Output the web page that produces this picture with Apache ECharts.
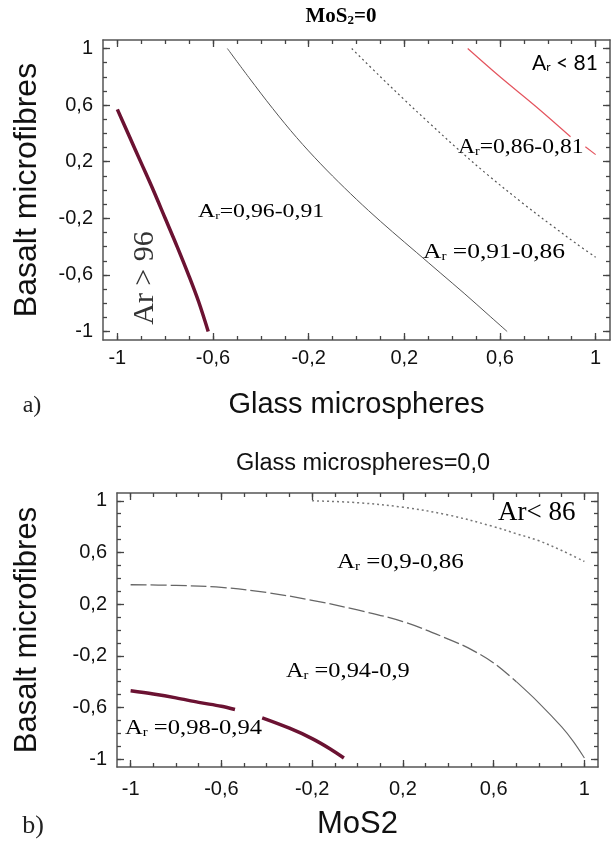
<!DOCTYPE html>
<html>
<head>
<meta charset="utf-8">
<script src="https://cdn.jsdelivr.net/npm/echarts@6/dist/echarts.min.js"></script>
<style>
  html, body { margin: 0; background: #fff; }
  #chart { width: 611px; height: 841px; }
</style>
</head>
<body>
<div id="chart"></div>
<script>
// tick values shared by both panels
const tickMajor = [-1, -0.6, -0.2, 0.2, 0.6, 1];
const tickMinor = [-1, -0.9, -0.8, -0.7, -0.6, -0.5, -0.4, -0.3, -0.2, -0.1, 0, 0.1, 0.2, 0.3, 0.4, 0.5, 0.6, 0.7, 0.8, 0.9, 1];

// a) MoS2 = 0 : x = glass microspheres, y = basalt microfibres
const aThickX = [-1, -0.95, -0.9, -0.85, -0.8, -0.75, -0.7, -0.66, -0.62];
const aThickY = [0.57, 0.38, 0.19, 0.0, -0.2, -0.4, -0.61, -0.79, -1.0];
const aSolidX = [-0.54, -0.45, -0.35, -0.25, -0.15, -0.05, 0.05, 0.15, 0.25, 0.35, 0.45, 0.55, 0.63];
const aSolidY = [1.0, 0.795, 0.575, 0.37, 0.185, 0.015, -0.145, -0.295, -0.44, -0.585, -0.73, -0.88, -1.0];
const aDotX = [-0.02, 0.1, 0.2, 0.3, 0.43, 0.55, 0.7, 0.82, 0.92, 1.0];
const aDotY = [1.0, 0.8, 0.638, 0.48, 0.28, 0.105, -0.1, -0.255, -0.38, -0.475];
const aRedX = [0.465, 0.6, 0.75, 0.895];
const aRedY = [1.0, 0.8, 0.59, 0.376];
const aRedTailX = [0.957, 1.0];
const aRedTailY = [0.306, 0.25];

// b) glass microspheres = 0 : x = MoS2, y = basalt microfibres
const bDotX = [-0.2, 0.0, 0.2, 0.4, 0.6, 0.7, 0.8, 0.9, 1.0];
const bDotY = [1.0, 0.985, 0.95, 0.89, 0.8, 0.745, 0.69, 0.615, 0.53];
const bDashX = [-1, -0.8, -0.6, -0.4, -0.2, 0, 0.2, 0.4, 0.5, 0.6, 0.7];
const bDashY = [0.35, 0.345, 0.33, 0.29, 0.23, 0.155, 0.065, -0.07, -0.15, -0.255, -0.4];
const bTailX = [0.7, 0.8, 0.9, 0.95, 1.0];
const bTailY = [-0.4, -0.565, -0.75, -0.86, -0.99];
const bThickX = [-1, -0.9, -0.8, -0.7, -0.6, -0.54];
const bThickY = [-0.47, -0.495, -0.525, -0.56, -0.59, -0.615];
const bThick2X = [-0.42, -0.3, -0.2, -0.12, -0.06];
const bThick2Y = [-0.68, -0.76, -0.84, -0.92, -0.99];

const EDGE = 1.06;
const pts = (xs, ys) => xs.map((x, i) => [x, ys[i]]);
const comma = v => String(v).replace('.', ',');

const frameCol = '#555';
const sans = 'Liberation Sans';
const serif = 'Liberation Serif';
const maroon = '#6b1232';

// one value axis of the frame; ticks point inward
function frameAxis(gi, pos, ticks, len, showLine, extra) {
  return Object.assign({
    gridIndex: gi, type: 'value', min: -EDGE, max: EDGE, position: pos,
    axisLine: { show: showLine, onZero: false, lineStyle: { color: frameCol, width: 1.5 } },
    axisTick: { show: true, inside: true, length: len, customValues: ticks, lineStyle: { color: '#444', width: 1.3 } },
    axisLabel: { show: false },
    splitLine: { show: false }
  }, extra || {});
}

function frame(gi, lo, hi, name, gap, size, labMargin, rotate) {
  const named = {
    axisLabel: {
      show: true, customValues: tickMajor, formatter: comma, margin: labMargin,
      fontFamily: sans, fontSize: 20, color: '#111'
    },
    name: name, nameLocation: 'middle', nameGap: gap,
    nameTextStyle: { fontFamily: sans, fontSize: size, color: '#111' }
  };
  if (rotate) named.nameRotate = 90;
  return [
    frameAxis(gi, lo, tickMajor, 7, true, named),
    frameAxis(gi, lo, tickMinor, 4, false),
    frameAxis(gi, hi, tickMajor, 7, true),
    frameAxis(gi, hi, tickMinor, 4, false)
  ];
}

function curve(gi, data, color, width, type) {
  return {
    type: 'line', xAxisIndex: gi * 4, yAxisIndex: gi * 4,
    data: data, showSymbol: false, smooth: 0.35, silent: true,
    lineStyle: { color: color, width: width, type: type || 'solid' }
  };
}

// "A" with subscript "r" followed by the rest of the label
function arText(x, y, rest, size, color, sx) {
  return {
    type: 'text', x: x, y: y, scaleX: sx || 1,
    style: {
      text: '{a|A}{s|r}{a|' + rest + '}',
      align: 'left', verticalAlign: 'middle',
      textAlign: 'left', textVerticalAlign: 'middle',
      rich: {
        a: { fontFamily: serif, fontSize: size, color: color },
        s: { fontFamily: serif, fontSize: Math.round(size * 0.6), color: color, verticalAlign: 'bottom' }
      }
    }
  };
}

function plainText(x, y, text, font, size, color, extra) {
  return Object.assign({
    type: 'text', x: x, y: y,
    style: {
      text: text, fontFamily: font, fontSize: size, fill: color,
      align: 'center', verticalAlign: 'middle',
      textAlign: 'center', textVerticalAlign: 'middle'
    }
  }, extra || {});
}

const myChart = echarts.init(document.getElementById('chart'));

const option = {
  backgroundColor: '#fff',
  animation: false,
  grid: [
    { left: 103, top: 40, width: 507, height: 300 },
    { left: 117, top: 493, width: 481, height: 275 }
  ],
  xAxis: frame(0, 'bottom', 'top', 'Glass microspheres', 50, 29, 8)
    .concat(frame(1, 'bottom', 'top', 'MoS2', 42, 31, 12)),
  yAxis: frame(0, 'left', 'right', 'Basalt microfibres', 60, 32, 10, true)
    .concat(frame(1, 'left', 'right', 'Basalt microfibres', 74, 31, 10, true)),
  series: [
    curve(0, pts(aThickX, aThickY), maroon, 3.5),
    curve(0, pts(aSolidX, aSolidY), '#555', 1),
    curve(0, pts(aDotX, aDotY), '#555', 1.2, [2, 3]),
    curve(0, pts(aRedX, aRedY), '#e4545e', 1.2),
    curve(0, pts(aRedTailX, aRedTailY), '#e4545e', 1.2),
    curve(1, pts(bDotX, bDotY), '#777', 1.5, [2, 3]),
    curve(1, pts(bDashX, bDashY), '#666', 1.3, [16, 4]),
    curve(1, pts(bTailX, bTailY), '#666', 1.1),
    curve(1, pts(bThickX, bThickY), maroon, 3.5),
    curve(1, pts(bThick2X, bThick2Y), maroon, 3.5)
  ],
  graphic: [
    // panel a
    {
      type: 'text', x: 341, y: 17,
      style: {
        text: '{b|MoS}{s|2}{b|=0}',
        align: 'center', verticalAlign: 'middle', textAlign: 'center', textVerticalAlign: 'middle',
        rich: {
          b: { fontFamily: serif, fontWeight: 'bold', fontSize: 21, color: '#222' },
          s: { fontFamily: serif, fontWeight: 'bold', fontSize: 13, color: '#222', verticalAlign: 'bottom' }
        }
      }
    },
    {
      type: 'text', x: 532, y: 63,
      style: {
        text: '{a|A}{s|r}{a| < 81}',
        align: 'left', verticalAlign: 'middle', textAlign: 'left', textVerticalAlign: 'middle',
        rich: {
          a: { fontFamily: 'Lato', fontSize: 21, color: '#222' },
          s: { fontFamily: 'Lato', fontSize: 12, color: '#222', verticalAlign: 'bottom' }
        }
      }
    },
    arText(458, 148, '=0,86-0,81', 20, '#444', 1.18),
    arText(198, 212, '=0,96-0,91', 19, '#555', 1.25),
    arText(423, 252, ' =0,91-0,86', 22, '#333', 1.16),
    plainText(145, 278, 'Ar > 96', serif, 30, '#333', { rotation: Math.PI / 2 }),
    plainText(32, 406, 'a)', serif, 24, '#222'),
    // panel b
    plainText(363, 464, 'Glass microspheres=0,0', sans, 23.5, '#111'),
    {
      type: 'text', x: 498, y: 513,
      style: {
        text: '{a|Ar}{l|<}{a| 86}',
        align: 'left', verticalAlign: 'middle', textAlign: 'left', textVerticalAlign: 'middle',
        rich: {
          a: { fontFamily: serif, fontSize: 27, color: '#333' },
          l: { fontFamily: serif, fontSize: 27, color: '#aaa' }
        }
      }
    },
    arText(337, 563, ' =0,9-0,86', 20, '#333', 1.25),
    arText(286, 672, ' =0,94-0,9', 20, '#333', 1.22),
    arText(125, 729, ' =0,98-0,94', 20, '#333', 1.23),
    plainText(33, 826, 'b)', serif, 26, '#222')
  ]
};

myChart.setOption(option);
</script>
</body>
</html>
